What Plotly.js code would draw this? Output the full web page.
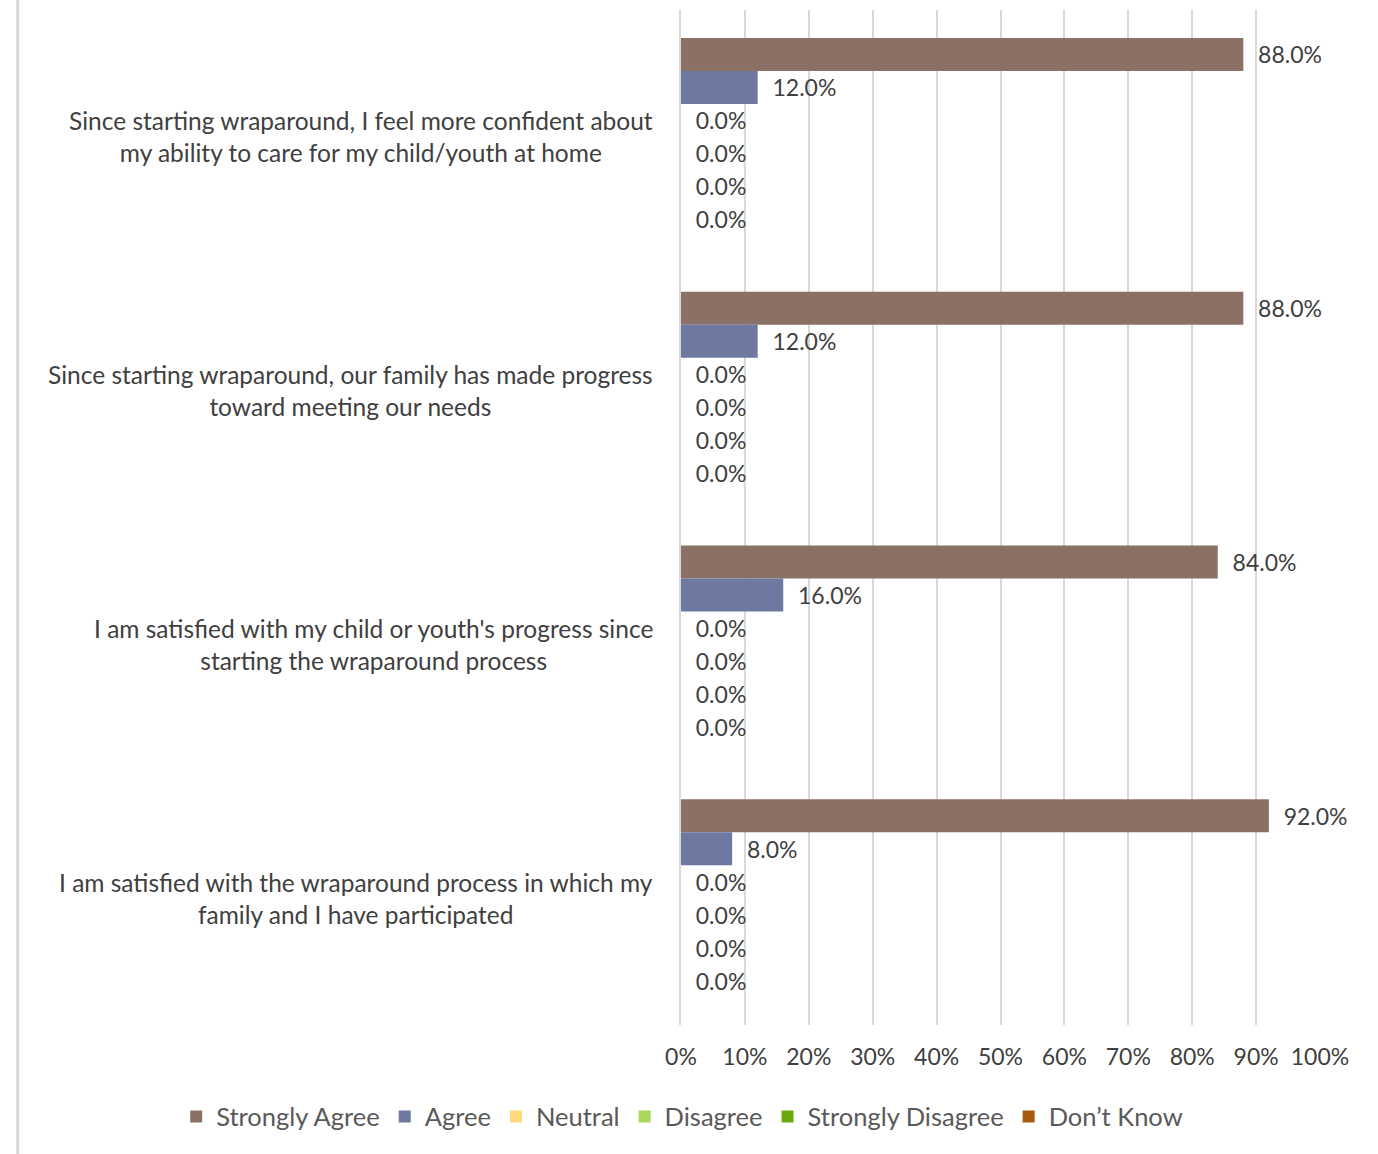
<!DOCTYPE html>
<html>
<head>
<meta charset="utf-8">
<script src="https://cdn.plot.ly/plotly-3.0.1.min.js"></script>
<style>html,body{margin:0;padding:0;background:#fff;}#chart{width:1378px;height:1154px;}</style>
</head>
<body>
<div id="chart"></div>
<script>
const categories = [
  "Since starting wraparound, I feel more confident about<br>my ability to care for my child/youth at home",
  "Since starting wraparound, our family has made progress<br>toward meeting our needs",
  "I am satisfied with my child or youth's progress since<br>starting the wraparound process",
  "I am satisfied with the wraparound process in which my<br>family and I have participated"
];
const seriesNames = ["Strongly Agree", "Agree", "Neutral", "Disagree", "Strongly Disagree", "Don’t Know"];
const stronglyAgree = [0.88, 0.88, 0.84, 0.92];
const agree = [0.12, 0.12, 0.16, 0.08];
const neutral = [0, 0, 0, 0];
const disagree = [0, 0, 0, 0];
const stronglyDisagree = [0, 0, 0, 0];
const dontKnow = [0, 0, 0, 0];
const tickVals = [0, 0.1, 0.2, 0.3, 0.4, 0.5, 0.6, 0.7, 0.8, 0.9, 1.0];

const seriesValues = [stronglyAgree, agree, neutral, disagree, stronglyDisagree, dontKnow];
const colors = ["#8B7066", "#6E78A0", "#FDD97B", "#A9D858", "#6BA80F", "#A65A10"];
const font = "Lato, 'Open Sans', sans-serif";

const traces = seriesNames.map((name, i) => ({
  type: "bar",
  orientation: "h",
  name: name,
  y: categories,
  x: seriesValues[i],
  marker: {color: colors[i]},
  text: seriesValues[i].map(v => "\u00a0\u00a0" + (v * 100).toFixed(1) + "%"),
  textposition: "outside",
  textfont: {family: font, size: 23, color: "#404040"},
  cliponaxis: false,
  hoverinfo: "x+name"
}));

const annotations = categories.map(c => ({
  xref: "paper", yref: "y", x: -0.04, y: c,
  text: c, showarrow: false, xanchor: "right", yanchor: "middle",
  align: "center", font: {family: font, size: 24.5, color: "#404040"}
}));

const layout = {
  width: 1378, height: 1154,
  margin: {l: 681, r: 58, t: 10, b: 129},
  paper_bgcolor: "#ffffff", plot_bgcolor: "#ffffff",
  barmode: "group", bargap: 0.22, bargroupgap: 0,
  font: {family: font, color: "#404040"},
  xaxis: {
    range: [0, 1], tickvals: tickVals, tickformat: ".0%",
    showgrid: true, gridcolor: "#d9d9d9", gridwidth: 1.5,
    zeroline: false, showline: false, ticks: "", ticklabelstandoff: 16,
    tickfont: {family: font, size: 23, color: "#404040"}
  },
  yaxis: {
    type: "category", autorange: "reversed", showticklabels: false,
    showline: true, linecolor: "#d9d9d9", linewidth: 1.5, ticks: "", showgrid: false
  },
  legend: {
    orientation: "h", xref: "paper", yref: "paper",
    x: -0.79, xanchor: "left", y: -0.0906, yanchor: "middle",
    font: {family: font, size: 25.5, color: "#595959"},
    traceorder: "normal", itemwidth: 20
  },
  annotations: annotations,
  shapes: [{
    type: "line", xref: "paper", yref: "paper",
    x0: -1.038, x1: -1.038, y0: 1.02, y1: -0.13,
    line: {color: "#d9d9d9", width: 3}
  }]
};

Plotly.newPlot("chart", traces, layout, {displayModeBar: false, responsive: false});
</script>
</body>
</html>
